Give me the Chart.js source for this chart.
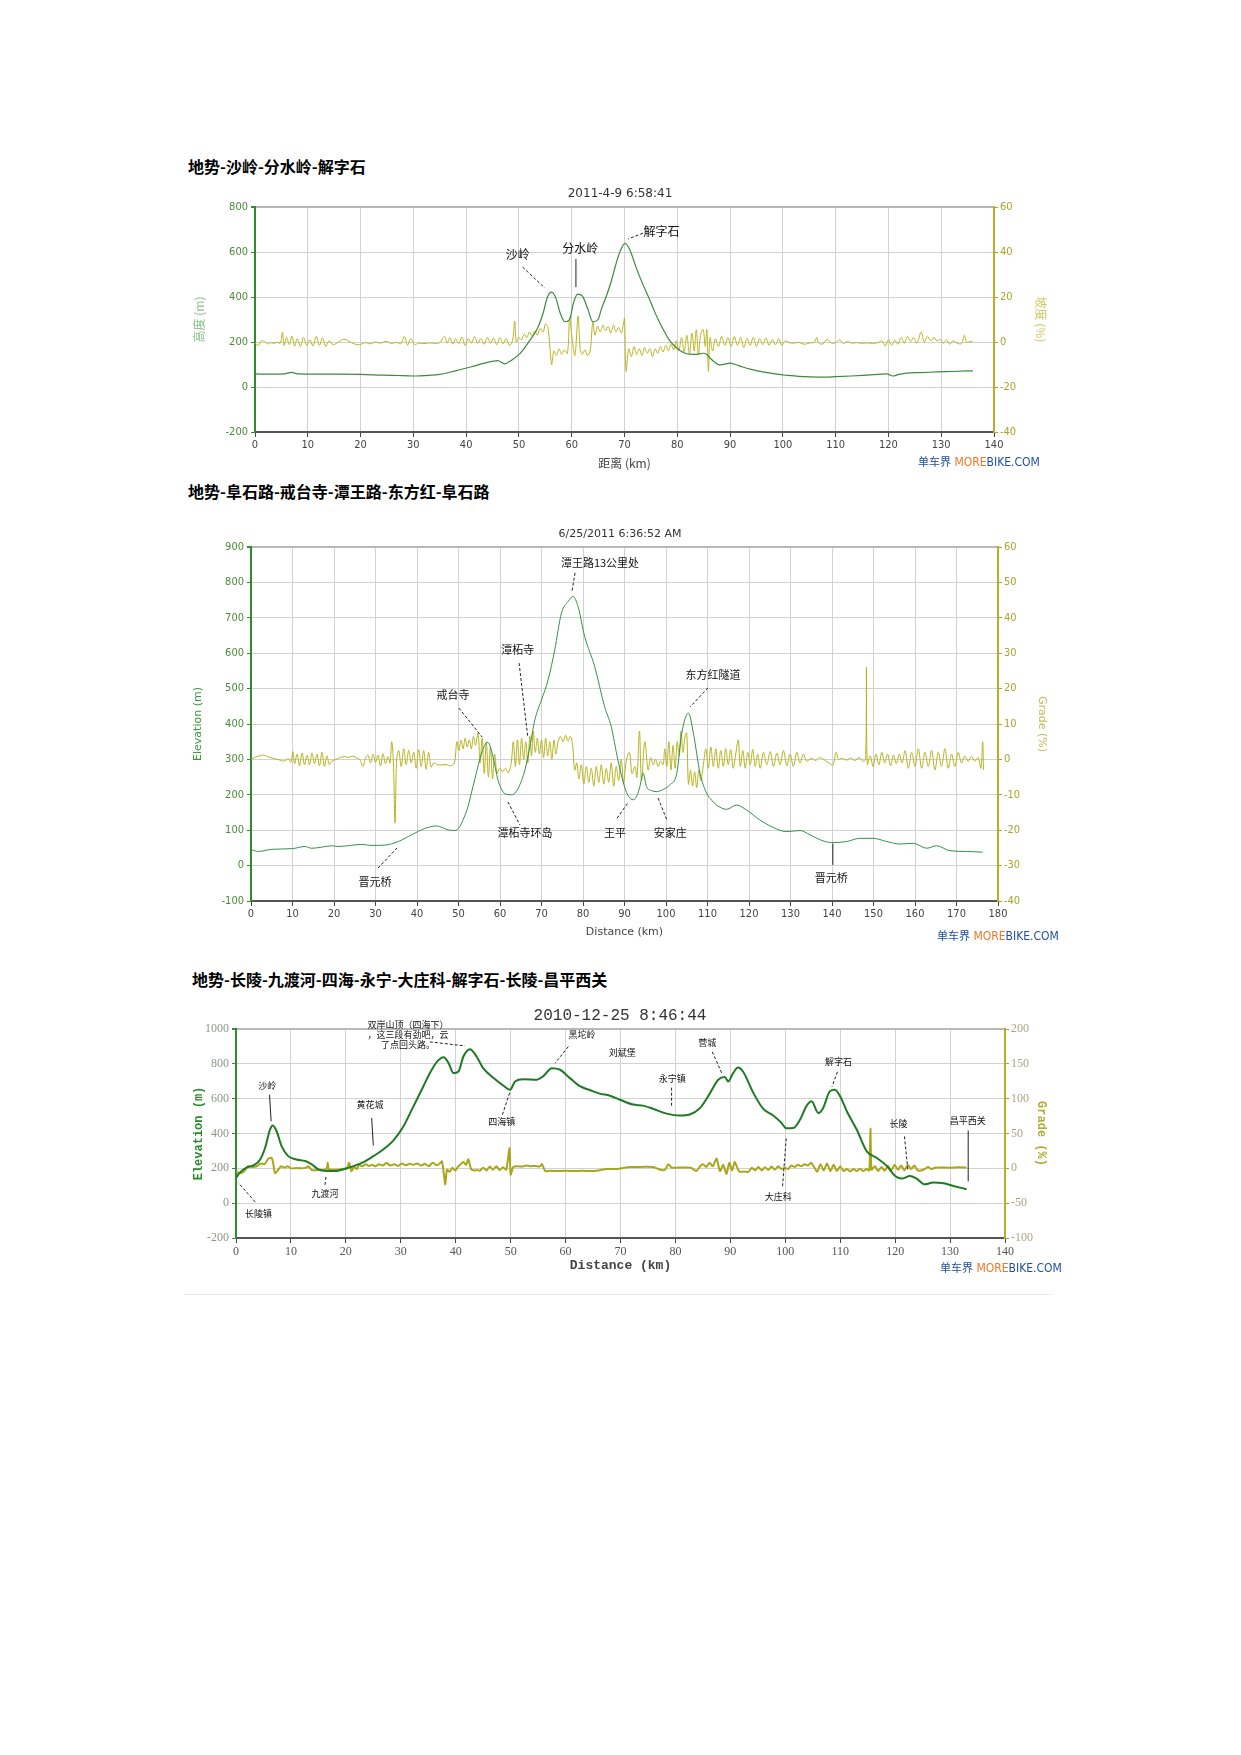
<!DOCTYPE html>
<html>
<head>
<meta charset="utf-8">
<script src="https://cdn.jsdelivr.net/npm/chart.js@4.4.1/dist/chart.umd.min.js"></script>
<style>
  body { margin:0; background:#fff; width:1241px; height:1755px; position:relative; font-family:"Noto Sans CJK SC", sans-serif; }
  .hd { position:absolute; font-weight:bold; font-size:16px; line-height:18px; color:#000; white-space:nowrap; }
  .brand { position:absolute; font-family:"Liberation Sans Narrow","DejaVu Sans Condensed",sans-serif; font-size:12px; line-height:14px; color:#1f4f9f; white-space:nowrap; }
  .brand span { font-family:"Noto Sans CJK SC",sans-serif; font-size:11px; }
  .brand b { color:#ee7722; font-weight:normal; }
  canvas { position:absolute; }
  .sep { position:absolute; left:185px; top:1294px; width:867px; border-top:1px dotted #d8d8d8; }
</style>
</head>
<body>
<div class="hd" style="left:188px;top:157px">地势-沙岭-分水岭-解字石</div>
<canvas id="c1" width="860" height="293" style="left:190px;top:180px"></canvas>
<div class="brand" style="left:918px;top:454px"><span>单车界</span> <b>MORE</b>BIKE.COM</div>

<div class="hd" style="left:188px;top:482px">地势-阜石路-戒台寺-潭王路-东方红-阜石路</div>
<canvas id="c2" width="860" height="421" style="left:190px;top:520px"></canvas>
<div class="brand" style="left:937px;top:928px"><span>单车界</span> <b>MORE</b>BIKE.COM</div>

<div class="hd" style="left:192px;top:970px">地势-长陵-九渡河-四海-永宁-大庄科-解字石-长陵-昌平西关</div>
<canvas id="c3" width="860" height="276" style="left:190px;top:1000px"></canvas>
<div class="brand" style="left:940px;top:1260px"><span>单车界</span> <b>MORE</b>BIKE.COM</div>
<div class="sep"></div>

<script>
// ---- chart 1: 沙岭-分水岭-解字石 (km, m) / (km, %)
const elev1 = [[0,58],[3,57],[5.5,58],[7,65],[8,58],[12,57],[16,57],[20,56],[24,53],[27,51],[30,49],[33,52],[35,56],[38,72],[41,90],[43.5,106],[46,117],[47.3,103],[48.5,118],[50.2,148],[52,205],[53.5,260],[54.6,330],[55.4,400],[56.2,422],[57,395],[57.8,330],[58.7,290],[59.6,300],[60.3,370],[61.1,413],[62,405],[63,350],[64,290],[65,300],[65.6,345],[66.5,400],[67.5,470],[68.3,540],[69.2,605],[70.1,638],[71,610],[72.3,525],[73.5,455],[74.8,387],[75.7,335],[76.7,284],[77.7,240],[78.6,205],[79.6,180],[80.5,162],[81.5,150],[82.4,146],[83.5,145],[84.9,150],[85.6,144],[86.2,129],[87,112],[88,98],[89,102],[90,106],[91,100],[92.4,89],[94,78],[96.2,67],[98.5,58],[100.7,52],[103,47],[107,44],[110,46],[113,49],[116,53],[119.7,58],[120.8,49],[122,56],[123.4,62],[126,64],[129.2,67],[132,69],[136,72]];
const grade1 = [[0,-0.5],[0.6,-1.5],[1.2,0.5],[1.8,0.2],[2.4,-0.8],[3,-0.3],[3.6,-0.6],[4.2,-0.2],[4.8,-0.5],[5.2,4.4],[5.5,-1.5],[6,2],[6.5,-1.2],[7,2.7],[7.5,-1.8],[8,1.5],[8.6,-2],[9.2,2],[9.8,-1.5],[10.4,1],[11,-1.8],[11.6,2.5],[12.2,-1.5],[12.8,1.8],[13.4,-2],[14,0.5],[14.8,-1.2],[15.8,0],[16.8,1.2],[17.8,0.3],[18.8,-0.8],[19.8,-1.2],[20.8,-0.3],[21.8,-0.8],[22.8,0],[23.8,-0.5],[24.8,0.3],[25.8,-0.6],[26.8,-0.2],[27.6,-0.8],[28.3,2.5],[28.9,-1.5],[29.5,1.5],[30.2,-1.2],[31,-0.5],[32,-0.7],[33,-0.4],[34,-0.6],[35,-0.3],[35.9,2.5],[36.4,-0.5],[36.9,2],[37.5,-1],[38,1.5],[38.6,-0.8],[39.2,2.2],[39.8,-1.6],[40.4,1.5],[41,-0.5],[41.6,2.4],[42.2,-0.6],[42.8,1.5],[43.4,-1],[44,2],[44.6,-0.5],[45.2,1.8],[45.8,-1.2],[46.4,2],[47,-0.8],[47.6,1.5],[48.2,-1.5],[48.8,0.8],[49.2,9.3],[49.5,0],[50,2],[50.5,1],[51,3.5],[51.5,2],[52,4.5],[52.5,2.5],[53,5],[53.5,3],[54,6],[54.6,4.5],[55,8],[55.5,6.5],[56.2,-10],[56.6,-4],[57.1,-6],[57.6,-3],[58.1,-5.5],[58.6,-3.5],[59.2,-5],[59.6,10.8],[60,3],[60.6,-6],[61.2,11.5],[61.6,-3],[62,-5.5],[62.5,-3.5],[63,-6],[63.5,-4],[64,9],[64.4,3],[64.9,7],[65.4,4.5],[65.9,7.5],[66.4,5],[66.9,7],[67.4,4],[67.9,7.5],[68.4,4.5],[68.9,6.5],[69.4,4],[69.8,8],[70,10.5],[70.3,-13],[70.8,-3],[71.3,-6.5],[71.8,-2],[72.3,-5.5],[72.8,-3],[73.3,-6],[73.8,-2.5],[74.3,-5],[74.8,-3],[75.3,-6.5],[75.8,-3],[76.3,-5],[76.8,-2],[77.3,-4.5],[77.8,-1.5],[78.3,-4],[78.8,-1],[79.3,-3.5],[79.8,0.5],[80.3,-4],[80.8,2],[81.3,-4.5],[81.8,3],[82.3,-5],[82.8,4],[83.2,-4],[83.6,5.5],[84,-5.5],[84.4,3],[84.9,5.5],[85.3,-2],[85.6,5.5],[85.9,-13],[86.2,2],[86.7,-4],[87.2,1.5],[87.8,-2],[88.4,2.5],[89,-1.5],[89.6,2],[90.2,-2],[90.8,2.5],[91.4,-1.5],[92,2],[92.6,-2.5],[93.2,1.5],[93.8,-1.5],[94.4,2],[95,-2],[95.6,1.5],[96.2,-1.2],[96.8,1.8],[97.4,-1.5],[98,1],[98.6,-1.2],[99.2,1.5],[99.8,-1.5],[100.4,0.5],[101.2,-0.3],[102,-0.5],[103,-0.2],[104,-1],[105,-0.5],[106,0],[106.4,2],[106.8,-0.5],[107.6,-0.8],[108.4,1.2],[109.2,-0.5],[110,-0.3],[110.8,1],[111.5,-0.8],[112.2,0.3],[113,-0.5],[114,-0.3],[115,-0.6],[116,-0.4],[117,-0.6],[118,-0.3],[118.8,0.5],[119.4,-1.8],[120,1],[120.6,-1.5],[121.2,0.8],[121.8,-1],[122.4,2],[123,-0.5],[123.6,2.5],[124.2,0.2],[124.8,2],[125.4,-0.5],[126.2,4.4],[126.8,0],[127.4,2.5],[128,0.5],[128.6,2],[129.2,0.5],[129.8,1.2],[130.4,-0.5],[131,1],[131.6,-1],[132.2,0.5],[133,-0.5],[133.8,-0.8],[134.4,3],[134.8,-0.2],[135.4,0.2],[136,0]];
// [text, km, m, leader from km, m, to km, m, solid]
const notes1 = [['沙岭',49.8,587,50.7,533,54.9,440],['分水岭',61.6,618,60.8,569,60.8,444,true],['解字石',77,690,73.5,684,70.7,658]];

// ---- chart 2: 阜石路-戒台寺-潭王路-东方红
const elev2 = [[0,45],[1.8,40],[5,46],[10,48],[13,54],[14.6,49],[17,52],[19.4,56],[21,54],[24,57],[26.6,60],[29,57],[32.3,58],[35.5,68],[38.7,87],[41.9,105],[44.7,112],[47.5,101],[49.1,99],[50.3,110],[51.3,135],[52.3,167],[53.1,205],[53.9,242],[55.1,299],[56.3,340],[57.1,348],[58.3,308],[59.5,242],[60.4,215],[61.2,203],[62.8,200],[64.4,219],[66,270],[67.2,336],[68.4,412],[70,468],[71.6,525],[73.2,610],[74.8,713],[76.4,746],[77.6,760],[78.8,732],[80.4,647],[82.8,563],[85.2,449],[86.8,393],[88.4,299],[90,223],[91,195],[92.1,186],[93.1,200],[93.7,223],[94.5,261],[95.3,223],[96.5,212],[97.7,209],[99.3,215],[100.9,228],[102.6,261],[103.8,374],[105.4,431],[106.6,374],[108.2,261],[109.8,204],[111,185],[112.2,171],[114.6,159],[117,171],[119.4,157],[122.6,129],[125.8,108],[129,96],[132.3,99],[134.7,87],[137.1,73],[139.9,65],[143.5,68],[146.7,77],[149.9,77],[153.2,68],[156.4,61],[159.6,63],[162.8,49],[165.2,56],[168.4,42],[172.4,40],[176.3,38]];
const grade2 = [[0,0],[1,0.6],[2,1],[3,1.2],[4,0.8],[5,0.4],[6,0.1],[7,-0.2],[8,-0.5],[9,0.2],[9.6,-0.8],[10.1,2.2],[10.5,-1.2],[11.1,1.5],[11.7,-1.8],[12.3,1.8],[12.9,-1.5],[13.5,1.2],[14.1,-1.5],[14.7,1.8],[15.3,-1.2],[15.9,1.5],[16.5,-1.8],[17.1,2],[17.7,-2],[18.3,1],[18.9,-1.5],[19.5,-0.5],[20.5,0],[21.5,0.5],[22.5,0.8],[23.5,0.6],[24.5,0.9],[25.5,0.4],[26.2,0],[27,-2],[27.6,0.5],[28.2,1.2],[28.8,-1],[29.4,1.5],[30,-0.8],[30.6,1.2],[31.2,-1.8],[31.8,1.6],[32.4,-1.2],[33,0.8],[33.5,-1],[33.9,5],[34.3,-0.5],[34.7,-18],[35.1,0],[35.6,2.5],[36.2,-2],[36.8,3],[37.4,-1.5],[38,2.6],[38.6,-1],[39.2,2],[39.8,-2.5],[40.4,2.8],[41,-2],[41.6,2.5],[42.2,-2.8],[42.8,2],[43.4,-2.2],[44,-1],[45,-1.5],[46,-1.6],[47,-1.4],[48,-1.8],[49,-1],[49.6,5],[50.1,2.5],[50.6,5.5],[51.1,3],[51.6,6],[52.1,3.5],[52.6,5.5],[53.1,3],[53.6,6.5],[54.1,4],[54.7,7.5],[55.2,-1],[55.7,6],[56.2,-4],[56.7,5],[57.2,-5],[57.7,3.5],[58.2,-5.5],[58.7,1.5],[59.3,-4],[59.9,-2.5],[60.6,-3.5],[61.3,-2.5],[62,-3.8],[62.7,-1],[63.2,5],[63.7,-2],[64.2,5.5],[64.7,-1.5],[65.2,6],[65.7,0],[66.2,5],[66.7,-1],[67.2,6.5],[67.6,1],[68,8],[68.5,2],[69,6],[69.5,1.5],[70,5.5],[70.5,0.5],[71,6],[71.5,1],[72,5],[72.5,0],[73,5.5],[73.5,1.5],[74,5],[74.6,6.5],[75.2,5],[75.8,6.8],[76.4,5.2],[77,6.5],[77.5,4],[78,-3],[78.5,-1],[79,-5.5],[79.6,-1.5],[80.2,-7],[80.8,-2],[81.4,-6.5],[82,-2.5],[82.6,-7.5],[83.2,-2],[83.8,-6.5],[84.4,-1.5],[85,-7],[85.6,-2.5],[86.2,-6.5],[86.8,-1],[87.4,-7.5],[88,-2],[88.6,-6],[89.2,0],[89.8,-6.5],[90.4,-0.5],[91.2,2],[91.8,-4],[92.5,-2],[93,-5],[93.6,8],[94.1,-6],[94.9,5],[95.7,-3],[96.3,0.5],[96.9,-1.5],[97.5,0],[98.1,-2],[98.7,-0.5],[99.3,-1.5],[99.7,3],[100.2,-2],[100.7,5],[101.2,-3],[101.7,4],[102.2,-2.5],[102.7,5],[103.2,1],[103.6,8],[104.1,2],[104.6,6.6],[105,7.5],[105.4,-7],[105.9,-3],[106.4,-7.5],[106.9,-3.5],[107.4,-8],[107.9,-3],[108.4,-6],[109,-1.5],[109.6,3],[110.2,-2.5],[110.8,3.5],[111.4,-2],[112,3],[112.6,-2.5],[113.2,2.5],[113.8,-2],[114.4,3],[115,-1.5],[115.6,2.8],[116.2,-2.5],[116.8,1.5],[117.4,5.5],[117.9,-2],[118.5,2.5],[119.1,-2.5],[119.7,2],[120.3,-1.5],[120.9,2.8],[121.5,-2],[122.1,1.5],[122.7,-2.5],[123.5,2],[124.3,-1.5],[125.1,2.2],[125.9,-2],[126.7,1.8],[127.5,-1.5],[128.3,2.5],[129.1,-1.8],[129.9,1.5],[130.7,-2],[131.5,2],[132.3,-1],[133.1,1.5],[133.9,-0.5],[135,0.3],[136,-0.3],[137,0.5],[138,0],[139,-0.8],[140.2,-1.5],[141,2],[141.6,0],[142.5,0.3],[143.5,-0.2],[144.5,0.4],[145.5,-0.3],[146.5,0.5],[147.5,-0.5],[148.1,0],[148.3,26],[148.5,-1.5],[149.2,1],[149.9,-2],[150.6,1.5],[151.3,-1.5],[152,2],[152.7,-1],[153.4,1.5],[154.1,-1.8],[154.8,1.2],[155.5,-1.2],[156.2,1.5],[156.9,-1],[157.6,2.5],[158.4,-2.5],[159.2,2],[160,-2],[160.8,3],[161.6,-2.5],[162.4,2],[163.2,-2],[164,2.5],[164.8,-3],[165.6,2],[166.4,-2],[167.2,3],[168,-2.5],[168.8,1.5],[169.6,-2],[170.4,2],[171.2,-1],[172,1],[172.8,-0.5],[173.6,0.8],[174.4,-0.5],[175.2,0.5],[175.9,-2.5],[176.3,5],[176.5,-3]];
const notes2 = [['潭王路13公里处',84.1,855,78.1,827,77.3,773],['潭柘寺',64.3,609,64.6,572,66.7,363],['戒台寺',48.7,482,50.1,445,55.7,363],['潭柘寺环岛',66,92,61.9,180,64.8,115],['王平',87.7,92,88.2,134,90.8,177],['安家庄',101,92,98.1,191,100.2,129],['东方红隧道',111.3,538,110.1,502,105.8,448],['晋元桥',29.9,-46,30.6,-7,35.2,50],['晋元桥',139.8,-35,140.2,2,140.2,62,true]];

// ---- chart 3: 长陵-九渡河-四海-永宁-大庄科-解字石-长陵-昌平西关
const elev3 = [[0,145],[0.7,175],[1.9,204],[3.2,217],[4.4,251],[5.3,318],[6.2,423],[6.7,446],[7.4,413],[8.3,328],[9.5,270],[11,251],[12.6,242],[13.8,223],[15,194],[16.5,185],[18.3,185],[19.9,198],[21.4,213],[23.2,236],[25,270],[26.8,308],[28.7,362],[30.5,442],[32.3,556],[34.1,670],[35.3,747],[36.6,813],[37.8,838],[38.7,804],[39.6,747],[40.5,756],[41.4,842],[42.6,884],[43.8,842],[45,775],[46.9,718],[48.7,674],[49.9,651],[50.8,699],[52.3,712],[54.8,709],[56,731],[57.5,775],[59,766],[60.8,718],[62.7,670],[64.5,648],[66.2,629],[68.1,617],[69.9,594],[72.3,566],[74.1,560],[76,541],[78.4,514],[80.8,503],[82.6,509],[84.5,547],[86.3,632],[87.8,709],[89,724],[89.6,699],[90.5,747],[91.4,779],[92.3,756],[94.2,632],[96,541],[97.8,503],[99.3,461],[100.2,430],[101.5,432],[102.7,480],[103.9,560],[104.8,585],[106,518],[106.9,547],[108.1,642],[109,651],[110,613],[111.2,528],[113,423],[114.8,299],[116.6,261],[118.5,213],[120,156],[121.2,141],[122.7,156],[123.9,141],[125.4,108],[126.9,118],[128.8,114],[130.6,99],[133,80]];
const grade3 = [[0,-4],[0.6,-7],[1.4,-5],[2.2,3],[3,2],[3.8,3],[4.4,7],[5.2,6],[5.9,14],[6.5,15],[6.8,6],[7.1,-7],[7.7,-2],[8.2,3],[8.8,1],[9.4,3],[10,0],[11,0.5],[12,0],[12.7,1],[13.2,3],[13.8,-2.5],[14.8,-2.5],[15.9,-2.5],[16.5,-1],[16.7,8],[16.9,-1.5],[17.8,-2],[18.8,-1.5],[19.6,-0.5],[20.2,0],[20.6,8],[21,-4],[21.5,2],[22,-1],[22.4,5],[23,3],[23.6,6],[24.2,3.5],[24.8,5],[25.4,3],[26,6],[26.7,4],[27.4,7.5],[28.1,4],[28.8,6],[29.5,3.5],[30.2,7],[30.9,4.5],[31.6,6.5],[32.3,5],[33,7],[33.7,4],[34.4,6.5],[35.1,3],[35.8,8],[36.5,4.5],[37.1,7],[37.5,10],[37.8,-6],[38.1,-23],[38.4,-2],[38.9,-5],[39.4,1],[39.9,-3],[40.4,2],[40.9,6],[41.4,9],[41.9,5],[42.3,13],[42.8,-1],[43.3,-3],[43.9,-2.5],[44.4,-3.5],[45,1],[45.6,-3],[46.2,2.5],[46.8,-2],[47.4,3],[48,-2.5],[48.6,1.5],[49.2,-2],[49.8,29],[50,-9],[50.5,2],[51.3,3],[52.1,2.5],[52.9,4],[53.7,3],[54.5,3.5],[55.3,2.5],[55.7,6],[56.3,-4],[57.2,-3.5],[58.5,-4],[60,-3.5],[61.5,-4],[63,-3.5],[64.5,-4],[66,-3],[67.5,-1],[69.5,-1],[70.5,0.5],[71.7,2],[73,2],[74.5,2.2],[76,1.8],[77.2,-2],[78.1,-2],[78.7,6],[79.3,1],[80.2,1],[81.5,1.2],[82.8,1],[83.8,-4],[84.5,3],[85,6],[85.6,2],[86.2,8],[86.8,3],[87.5,14],[88.1,-4],[88.7,5],[89.3,-8],[89.8,8],[90.3,-3],[90.8,9],[91.4,-2],[91.7,-5],[92.5,-4.5],[93.3,-5],[93.9,1],[94.5,-3],[95.1,2],[95.7,-3],[96.3,1.5],[96.9,-2.5],[97.5,2.5],[98.1,-2],[98.7,3],[99.3,-1],[99.9,1],[100.5,-1],[101.1,4],[101.7,2],[102.3,5],[102.9,3],[103.5,6],[104.1,4],[104.7,8],[105.3,1],[105.8,-5],[106.4,6],[107,-3],[107.6,7],[108.2,-4],[108.8,5],[109.4,-4],[110,3],[110.6,-4],[111.2,-1],[111.8,-4.5],[112.4,-1],[113,-4],[113.6,-0.5],[114.2,-4],[114.8,-1],[115.3,-3],[115.5,57],[115.7,-2],[116.3,3],[116.9,-4],[117.5,2],[118.1,-3.5],[118.7,3.5],[119.3,-3],[119.9,5],[120.5,-2],[121.1,4],[121.7,-3],[122.3,5],[122.9,-1],[123.5,4],[124.1,-3],[124.7,-3],[125.4,-1],[126,2],[126.6,-1],[127.2,1],[128.5,1.2],[130,1],[131.5,1.5],[133,1.2]];
const notes3 = [['沙岭',5.7,676,6.1,623,6.4,470,true],['长陵镇',4.1,-59,3.5,7,0.4,118],['九渡河',16.2,57,16.2,105,16.4,156],['黄花城',24.4,566,24.7,489,25,331,true],['四海镇',48.4,470,48.5,508,49.9,642],['黑坨岭',63,966,60.5,899,58.1,804],['双岸山顶（四海下）\n，这三段有劲吧，云\n了点回头路。',31.3,966,35.3,926,41.7,903],['刘斌堡',70.3,863],['永宁镇',79.4,714,79.3,663,79.3,549],['营城',85.8,920,86.7,869,88.5,743],['大庄科',98.7,40,99.5,97,100.2,383],['解字石',109.7,811,109.5,754,108.5,669],['长陵',120.6,457,121.7,383,122.3,194],['昌平西关',133.2,474,133.3,417,133.3,126,true]];

// draws place names and leader lines in data units
function notesPlugin(list, font, lh) {
  return {
    id: 'notes',
    afterDatasetsDraw(chart) {
      const ctx = chart.ctx, xs = chart.scales.x, ys = chart.scales.y;
      ctx.save();
      ctx.font = font;
      ctx.fillStyle = '#111';
      ctx.strokeStyle = '#222';
      ctx.lineWidth = 1;
      ctx.textAlign = 'center';
      ctx.textBaseline = 'middle';
      list.forEach(n => {
        const lines = n[0].split('\n');
        const px = xs.getPixelForValue(n[1]), py = ys.getPixelForValue(n[2]);
        lines.forEach((t, i) => ctx.fillText(t, px, py + (i - (lines.length - 1) / 2) * lh));
        if (n.length > 3) {
          ctx.setLineDash(n[7] ? [] : [3, 2]);
          ctx.beginPath();
          ctx.moveTo(xs.getPixelForValue(n[3]), ys.getPixelForValue(n[4]));
          ctx.lineTo(xs.getPixelForValue(n[5]), ys.getPixelForValue(n[6]));
          ctx.stroke();
        }
      });
      ctx.restore();
    }
  };
}

const pts = arr => arr.map(p => ({x: p[0], y: p[1]}));
const plain = v => String(v);

function profile(id, o) {
  return new Chart(document.getElementById(id), {
    type: 'line',
    data: {
      datasets: [
        { data: pts(o.elev), yAxisID: 'y', borderColor: o.elevColor, borderWidth: o.lw, pointRadius: 0, cubicInterpolationMode: 'monotone' },
        { data: pts(o.grade), yAxisID: 'y1', borderColor: o.gradeColor, borderWidth: o.gw, pointRadius: 0, tension: o.gt }
      ]
    },
    options: {
      responsive: false,
      animation: false,
      layout: { padding: 0 },
      plugins: {
        legend: { display: false },
        tooltip: { enabled: false },
        title: { display: true, text: o.date, color: '#333', font: o.dateFont, padding: o.datePad }
      },
      scales: {
        x: {
          type: 'linear', min: 0, max: o.xMax,
          ticks: { stepSize: 10, color: o.xTickColor, font: o.tickFont, padding: 2, maxRotation: 0, callback: plain },
          grid: { color: '#d2d2d2', tickLength: 5, tickColor: '#444' },
          border: { color: '#555', width: 2 },
          title: { display: true, text: o.xTitle, color: '#444', font: o.xTitleFont, padding: { top: 2, bottom: 2 } },
          afterFit: s => { s.height = o.xH; }
        },
        y: {
          position: 'left', min: o.yMin, max: o.yMax,
          ticks: { stepSize: o.yStep, color: o.yTickColor, font: o.tickFont, padding: 3, callback: plain },
          grid: {
            color: ctx => ctx.tick.value === o.yMax ? '#b8b8b8' : '#d2d2d2',
            lineWidth: ctx => ctx.tick.value === o.yMax ? 2 : 1,
            tickLength: 4, tickColor: '#3a8a3a'
          },
          border: { color: '#2e8b2e', width: 2 },
          title: { display: true, text: o.yTitle, color: o.yTitleColor, font: o.axisTitleFont, padding: { top: 2, bottom: 2 } },
          afterFit: s => { s.width = o.yW; }
        },
        y1: {
          position: 'right', min: o.gMin, max: o.gMax,
          ticks: { stepSize: o.gStep, color: o.gTickColor, font: o.tickFont, padding: 2, callback: plain },
          grid: { drawOnChartArea: false, tickLength: 4, tickColor: '#aaa22a' },
          border: { color: '#b4b02a', width: 2 },
          title: { display: true, text: o.gTitle, color: o.gTitleColor, font: o.axisTitleFont, padding: { top: 2, bottom: 2 } },
          afterFit: s => { s.width = o.gW; }
        }
      }
    },
    plugins: [notesPlugin(o.notes, o.noteFont, o.noteLh)]
  });
}

profile('c1', {
  elev: elev1, grade: grade1, notes: notes1,
  elevColor: '#3d8a3d', lw: 1.2, gradeColor: '#b9b521', gw: 1, gt: 0.35,
  date: '2011-4-9 6:58:41', dateFont: { family: 'DejaVu Sans', size: 12, weight: 'normal' }, datePad: { top: 7, bottom: 5.6 },
  xMax: 140, xTitle: '距离 (km)', xTitleFont: { family: 'Noto Sans CJK SC', size: 12 }, xH: 41,
  xTickColor: '#444', tickFont: { family: 'DejaVu Sans Condensed', size: 11 },
  yMin: -200, yMax: 800, yStep: 200, yTickColor: '#4a8a3a', yTitle: '高度 (m)', yTitleColor: '#8cc48c', yW: 65,
  gMin: -40, gMax: 60, gStep: 20, gTickColor: '#a8a52a', gTitle: '坡度 (%)', gTitleColor: '#cfcb6a', gW: 56,
  axisTitleFont: { family: 'Noto Sans CJK SC', size: 12 },
  noteFont: '12px "Noto Sans CJK SC"', noteLh: 13
});

profile('c2', {
  elev: elev2, grade: grade2, notes: notes2,
  elevColor: '#35904a', lw: 1, gradeColor: '#b5b31c', gw: 1, gt: 0.35,
  date: '6/25/2011 6:36:52 AM', dateFont: { family: 'DejaVu Sans', size: 11, weight: 'normal' }, datePad: { top: 7.4, bottom: 6.4 },
  xMax: 180, xTitle: 'Distance (km)', xTitleFont: { family: 'DejaVu Sans', size: 11 }, xH: 40,
  xTickColor: '#444', tickFont: { family: 'DejaVu Sans Condensed', size: 11 },
  yMin: -100, yMax: 900, yStep: 100, yTickColor: '#4a8a3a', yTitle: 'Elevation (m)', yTitleColor: '#3a9a3a', yW: 61,
  gMin: -40, gMax: 60, gStep: 10, gTickColor: '#a8a52a', gTitle: 'Grade (%)', gTitleColor: '#c0bc50', gW: 52,
  axisTitleFont: { family: 'DejaVu Sans', size: 11 },
  noteFont: '11px "Noto Sans CJK SC"', noteLh: 12
});

profile('c3', {
  elev: elev3, grade: grade3, notes: notes3,
  elevColor: '#1f7a24', lw: 2, gradeColor: '#aaa61c', gw: 2, gt: 0.2,
  date: '2010-12-25 8:46:44', dateFont: { family: 'Liberation Mono', size: 16, weight: 'normal' }, datePad: { top: 6.4, bottom: 3.4 },
  xMax: 140, xTitle: 'Distance (km)', xTitleFont: { family: 'Liberation Mono', size: 13, weight: 'bold' }, xH: 38,
  xTickColor: '#555', tickFont: { family: 'Liberation Serif', size: 12 },
  yMin: -200, yMax: 1000, yStep: 200, yTickColor: '#8a9a8a', yTitle: 'Elevation (m)', yTitleColor: '#2a8a2a', yW: 46,
  gMin: -100, gMax: 200, gStep: 50, gTickColor: '#a8a58a', gTitle: 'Grade (%)', gTitleColor: '#b0aa30', gW: 45,
  axisTitleFont: { family: 'Liberation Mono', size: 12, weight: 'bold' },
  noteFont: '9px "Noto Sans CJK SC"', noteLh: 10
});
</script>
</body>
</html>
